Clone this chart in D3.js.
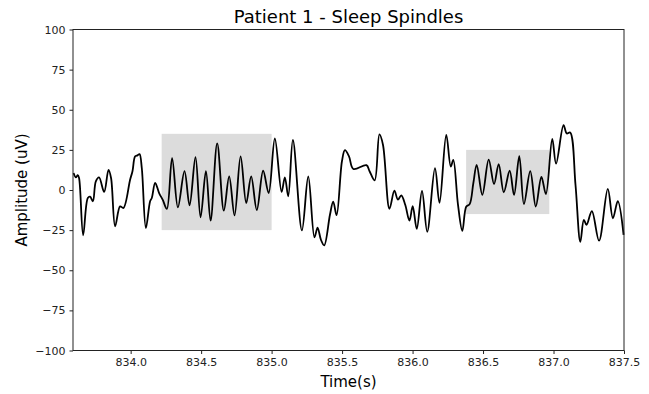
<!DOCTYPE html>
<html>
<head>
<meta charset="utf-8">
<script src="https://cdn.jsdelivr.net/npm/d3@7"></script>
<style>
  body { margin: 0; background: #fff; }
  text { font-family: "DejaVu Sans", sans-serif; }
</style>
</head>
<body>
<figure id="chart" style="margin:0"></figure>
<script>
// EEG trace (time in s, amplitude in uV)
const time = [
  833.595, 833.611, 833.625, 833.634, 833.663, 833.696, 833.712, 833.732, 833.753, 833.776,
  833.812, 833.843, 833.861, 833.890, 833.925, 833.949, 833.996, 834.013, 834.032, 834.049,
  834.063, 834.079, 834.108, 834.138, 834.150, 834.174, 834.202, 834.228, 834.257, 834.294,
  834.335, 834.382, 834.418, 834.460, 834.496, 834.534, 834.567, 834.614, 834.661, 834.699,
  834.737, 834.780, 834.820, 834.855, 834.895, 834.940, 834.979, 835.023, 835.071, 835.094,
  835.118, 835.151, 835.215, 835.260, 835.304, 835.326, 835.350, 835.373, 835.414, 835.437,
  835.461, 835.499, 835.520, 835.549, 835.580, 835.673, 835.695, 835.731, 835.765, 835.790,
  835.836, 835.871, 835.896, 835.920, 835.948, 835.978, 836.001, 836.030, 836.067, 836.104,
  836.159, 836.191, 836.239, 836.271, 836.289, 836.322, 836.353, 836.381, 836.405, 836.431,
  836.455, 836.495, 836.540, 836.578, 836.611, 836.647, 836.689, 836.720, 836.757, 836.790,
  836.835, 836.874, 836.914, 836.946, 836.991, 837.018, 837.071, 837.094, 837.118, 837.156,
  837.190, 837.215, 837.234, 837.272, 837.323, 837.385, 837.421, 837.456, 837.497
];
const amplitude = [
  10.6, 7.9, 9.2, 7.5, -28.2, -5.0, -4.2, -7.0, 5.4, 7.9,
  -1.2, 12.6, 7.5, -22.6, -10.2, -11.2, 6.4, 11.7, 21.0, 21.6,
  22.4, 13.7, -23.7, -7.0, -5.0, 4.4, -1.9, -6.2, -11.8, 19.9,
  -10.8, 11.7, -9.5, 20.4, -17.0, 11.7, -19.1, 29.1, -12.9, 8.5,
  -15.8, 21.0, -8.1, 8.5, -12.5, 12.0, -1.9, 32.1, -1.2, 7.9,
  -3.9, 31.2, -25.2, 8.4, -29.5, -23.5, -31.0, -34.5, -15.4, -7.2,
  -15.7, 17.9, 24.8, 21.0, 13.1, 15.5, 11.7, 6.0, 34.6, 28.2,
  -11.7, -0.4, -6.0, -3.3, -9.2, -19.1, -10.1, -24.2, -0.5, -26.0,
  13.6, -8.0, 34.4, 14.6, 18.8, -9.0, -25.5, -10.3, -8.8, 4.2,
  15.7, -3.0, 18.9, 3.7, 16.1, -1.4, 12.0, -3.1, 21.1, -8.7,
  11.7, -10.3, 8.1, -2.5, 31.8, 16.4, 40.4, 35.2, 35.9, 3.1,
  -32.3, -18.6, -21.7, -13.1, -31.6, 0.7, -17.6, -7.0, -27.9
];

// detected spindles: [start, end, low, high]
const spindleStart = [834.22, 836.38];
const spindleEnd = [835.0, 836.97];
const spindleLow = [-25, -15];
const spindleHigh = [35, 25];

const xTicks = [834.0, 834.5, 835.0, 835.5, 836.0, 836.5, 837.0, 837.5];
const yTicks = [-100, -75, -50, -25, 0, 25, 50, 75, 100];

const W = 649, H = 394;
const margin = { top: 29.5, right: 25, bottom: 43.5, left: 73 };
const width = W - margin.left - margin.right;
const height = H - margin.top - margin.bottom;

const svg = d3.select("#chart")
  .append("svg")
  .attr("width", W)
  .attr("height", H);

const g = svg.append("g")
  .attr("transform", "translate(" + margin.left + "," + margin.top + ")");

const x = d3.scaleLinear().domain([833.591, 837.5]).range([0, width]);
const y = d3.scaleLinear().domain([-100, 100]).range([height, 0]);

// shaded spindle boxes
g.selectAll("rect.spindle")
  .data(spindleStart.map((s, i) => ({ s, e: spindleEnd[i], lo: spindleLow[i], hi: spindleHigh[i] })))
  .enter()
  .append("rect")
  .attr("class", "spindle")
  .attr("x", d => x(d.s))
  .attr("width", d => x(d.e) - x(d.s))
  .attr("y", d => y(d.hi))
  .attr("height", d => y(d.lo) - y(d.hi))
  .attr("fill", "#dcdcdc");

// signal
const pts = time.map((t, i) => [t, amplitude[i]]);
const line = d3.line()
  .x(d => x(d[0]))
  .y(d => y(d[1]))
  .curve(d3.curveCatmullRom.alpha(0.5));

g.append("path")
  .datum(pts)
  .attr("d", line)
  .attr("fill", "none")
  .attr("stroke", "#000")
  .attr("stroke-width", 1.8)
  .attr("stroke-linejoin", "round");

// axes
const xAxis = g.append("g")
  .attr("transform", "translate(0," + height + ")")
  .call(d3.axisBottom(x).tickValues(xTicks).tickFormat(d3.format(".1f")).tickSizeOuter(0).tickSize(3.5).tickPadding(4));
const yAxis = g.append("g")
  .call(d3.axisLeft(y).tickValues(yTicks).tickSizeOuter(0).tickSize(3.5).tickPadding(4));

[xAxis, yAxis].forEach(a => {
  a.select(".domain").remove();
  a.selectAll("text").attr("font-size", 11).attr("fill", "#222").style("font-family", "DejaVu Sans, sans-serif");
  a.selectAll("line").attr("stroke", "#222");
});

// frame
g.append("rect")
  .attr("width", width)
  .attr("height", height)
  .attr("fill", "none")
  .attr("stroke", "#222")
  .attr("stroke-width", 1);

// labels
svg.append("text")
  .attr("x", margin.left + width / 2)
  .attr("y", 23)
  .attr("text-anchor", "middle")
  .attr("font-size", 18)
  .text("Patient 1 - Sleep Spindles");

svg.append("text")
  .attr("x", margin.left + width / 2)
  .attr("y", 387)
  .attr("text-anchor", "middle")
  .attr("font-size", 15)
  .text("Time(s)");

svg.append("text")
  .attr("transform", "translate(27," + (margin.top + height / 2) + ") rotate(-90)")
  .attr("text-anchor", "middle")
  .attr("font-size", 15)
  .text("Amplitude (uV)");
</script>
</body>
</html>
